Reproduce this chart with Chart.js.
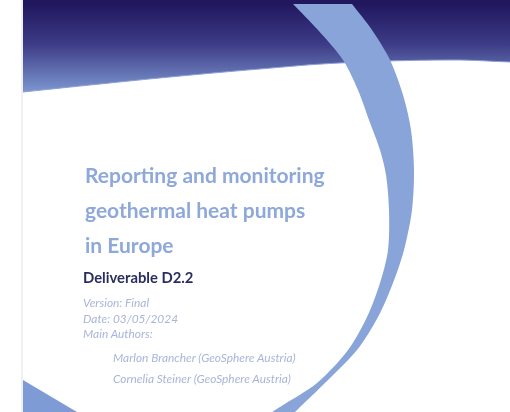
<!DOCTYPE html>
<html>
<head>
<meta charset="utf-8">
<script src="https://cdn.jsdelivr.net/npm/chart.js@4.4.1/dist/chart.umd.min.js"></script>
<style>
  html, body { margin: 0; padding: 0; background: #fff; }
  #page { position: relative; width: 510px; height: 412px; overflow: hidden; }
  #cover { position: absolute; left: 0; top: 0; }
  .edge { position: absolute; left: 21px; top: 0; width: 2px; height: 412px; background: #eef0f5; }
  .txt { position: absolute; white-space: nowrap; font-family: Lato, "Open Sans", sans-serif; }
  .title { font-weight: 700; font-size: 21px; color: #8ea8da; }
  .sub { font-weight: 700; font-size: 14.8px; color: #2c2d5f; }
  .meta { font-style: italic; font-size: 11.9px; color: #aab5d8; }
</style>
</head>
<body>
<div id="page">
  <canvas id="cover" width="510" height="412"></canvas>
  <div class="edge"></div>
  <div id="text"></div>
</div>
<script>
// outline points, [x, y] in page pixels (y down)
const bandEdge = [[23, 92], [100, 84], [170, 77], [260, 69], [340, 63], [450, 60], [510, 62]];
const arcOuter = [[352, 4], [372, 30], [390, 60], [403, 95], [411, 130], [414, 170], [412, 210],
                  [404, 250], [393, 283], [378, 317], [357, 350], [325, 383], [300, 407], [293, 413]];
const arcInner = [[272, 413], [280, 407], [317, 383], [348, 350], [367, 317], [380, 283],
                  [388, 250], [389, 210], [386, 175], [380, 150], [369, 120], [358, 90],
                  [343, 60], [318, 30], [293, 4]];
const cornerEdge = [[23, 380], [77, 412]];

// text lines and their centre heights
const titleLines = ['Reporting and monitoring', 'geothermal heat pumps', 'in Europe'];
const titleY = [175, 210, 245];
const subtitle = 'Deliverable D2.2';
const metaLines = ['Version: Final', 'Date: 03/05/2024', 'Main Authors:'];
const metaY = [303, 319, 334];
const authors = ['Marlon Brancher (GeoSphere Austria)', 'Cornelia Steiner (GeoSphere Austria)'];
const authorY = [358, 379];

const pts = arr => arr.map(p => ({ x: p[0], y: p[1] }));

function bandGradient(context) {
    const area = context.chart.chartArea;
    if (!area) return '#3d3f8a';
    const g = context.chart.ctx.createLinearGradient(0, 4, 0, 92);
    g.addColorStop(0, '#21175f');
    g.addColorStop(0.45, '#3c3b85');
    g.addColorStop(1, '#7d96d0');
    return g;
}

new Chart(document.getElementById('cover'), {
    type: 'scatter',
    data: {
        datasets: [
            {
                label: 'arc',
                data: pts(arcOuter.concat(arcInner)),
                showLine: true,
                tension: 0.3,
                borderWidth: 0,
                borderColor: 'rgba(0,0,0,0)',
                backgroundColor: '#88a4d9',
                fill: 'shape',
                pointRadius: 0,
                order: 0
            },
            {
                label: 'band',
                data: pts(bandEdge),
                showLine: true,
                tension: 0.4,
                borderWidth: 1,
                borderColor: '#8aa0d6',
                backgroundColor: bandGradient,
                fill: { value: 0 },
                pointRadius: 0,
                order: 1
            },
            {
                label: 'corner',
                data: pts(cornerEdge),
                showLine: true,
                borderWidth: 0,
                borderColor: 'rgba(0,0,0,0)',
                backgroundColor: '#7f9bd5',
                fill: { value: 412 },
                pointRadius: 0,
                order: 1
            }
        ]
    },
    options: {
        responsive: false,
        animation: false,
        layout: { padding: 0 },
        plugins: { legend: { display: false }, tooltip: { enabled: false } },
        scales: {
            x: { type: 'linear', min: 0, max: 510, display: false },
            y: { type: 'linear', min: 0, max: 412, reverse: true, display: false }
        }
    }
});

// real text on top of the drawing
const holder = document.getElementById('text');
function addLine(str, cls, left, cy, size) {
    const d = document.createElement('div');
    d.className = 'txt ' + cls;
    d.textContent = str;
    d.style.left = left + 'px';
    d.style.top = (cy - size * 0.6) + 'px';
    d.style.lineHeight = (size * 1.2) + 'px';
    holder.appendChild(d);
}
titleLines.forEach((t, i) => addLine(t, 'title', 85, titleY[i], 21));
addLine(subtitle, 'sub', 83, 278, 14.8);
metaLines.forEach((t, i) => addLine(t, 'meta', 83, metaY[i], 11.9));
authors.forEach((t, i) => addLine(t, 'meta', 113, authorY[i], 11.9));
</script>
</body>
</html>
